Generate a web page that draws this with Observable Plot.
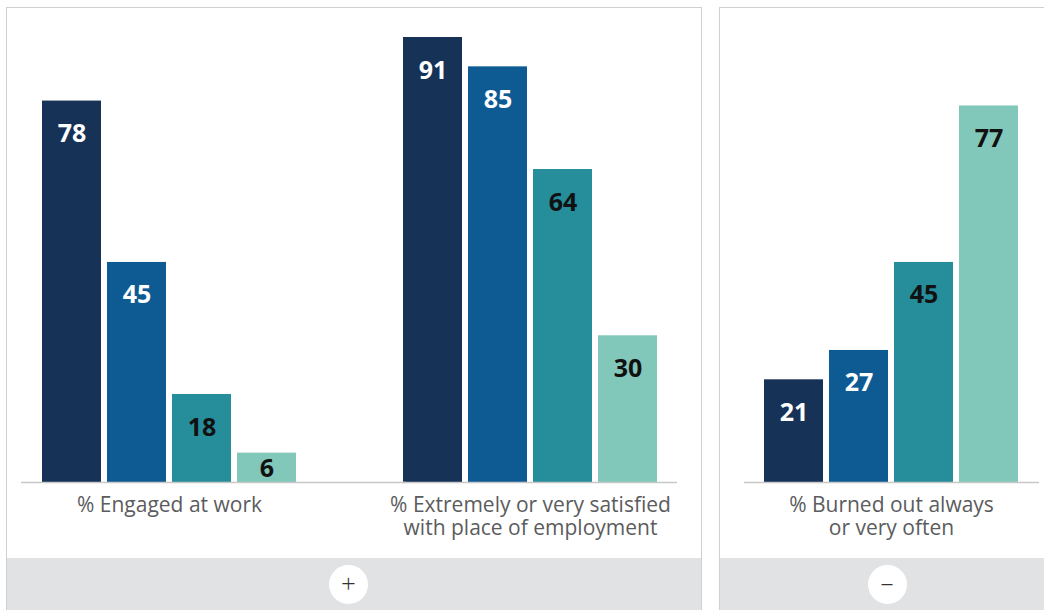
<!DOCTYPE html>
<html>
<head>
<meta charset="utf-8">
<script src="https://cdn.jsdelivr.net/npm/d3@7"></script>
<script src="https://cdn.jsdelivr.net/npm/@observablehq/plot@0.6"></script>
<style>
  html, body { margin: 0; padding: 0; background: #fff; }
  #stage { position: relative; width: 1044px; height: 610px; overflow: hidden; font-family: "Open Sans", sans-serif; }
  .panel { position: absolute; top: 7px; height: 640px; border: 1.5px solid #d0d0d0; box-sizing: border-box; background: #fff; }
  .band { position: absolute; left: 0; right: 0; top: 549.5px; height: 100px; background: #e1e2e4; }
  .btn { position: absolute; width: 39px; height: 39px; border-radius: 50%; background: #fff; top: 564.5px;
         display: flex; align-items: center; justify-content: center; color: #333; font-size: 26px; font-weight: 300; line-height: 1; }
  #chart { position: absolute; left: 0; top: 0; }
  #chart svg { background: transparent !important; }
</style>
</head>
<body>
<div id="stage">
  <div class="panel" style="left:6px; width:696px;"><div class="band"></div></div>
  <div class="panel" style="left:719px; width:400px;"><div class="band"></div></div>
  <div class="btn" style="left:329px;"><span style="margin-top:-3px">+</span></div>
  <div class="btn" style="left:867.5px;"><span style="margin-top:-4px">–</span></div>
  <div id="chart"></div>
</div>
<script>
// ---- Data ----
const metrics = ["Engaged", "Satisfied", "Burned out"];
const metricLabels = ["% Engaged at work", "% Extremely or very satisfied\nwith place of employment", "% Burned out always\nor very often"];
const segments = ["Segment 1", "Segment 2", "Segment 3", "Segment 4"];
const engagedValues = [78, 45, 18, 6];
const satisfiedValues = [91, 85, 64, 30];
const burnedOutValues = [21, 27, 45, 77];
const segmentColors = ["#163257", "#0e5b94", "#268d9b", "#81c7ba"];

const seriesByMetric = [engagedValues, satisfiedValues, burnedOutValues];
const rows = metrics.flatMap((m, i) => segments.map((s, j) => ({metric: m, segment: s, idx: j, value: seriesByMetric[i][j]})));
const labelRows = metrics.map((m, i) => ({metric: m, label: metricLabels[i]}));

const labelY = d => Math.max(d.value / 2, d.value - 6.55);
const ruleColor = "#c8c8c8";

const chart = Plot.plot({
  width: 1044,
  height: 558,
  marginLeft: 41,
  marginRight: 25,
  marginTop: 37,
  marginBottom: 76,
  style: {background: "transparent", overflow: "visible"},
  fx: {domain: metrics, paddingInner: 0.2916, paddingOuter: 0, axis: null},
  x: {domain: segments, paddingInner: 0.1, paddingOuter: 0, axis: null},
  y: {domain: [0, 91], axis: null},
  color: {domain: segments, range: segmentColors},
  marks: [
    Plot.barY(rows, {fx: "metric", x: "segment", y: "value", fill: "segment"}),
    Plot.ruleY([{metric: metrics[0], v: 0}], {fx: "metric", y: "v", stroke: ruleColor, strokeWidth: 1.5, insetLeft: -20, insetRight: -109}),
    Plot.ruleY([{metric: metrics[1], v: 0}], {fx: "metric", y: "v", stroke: ruleColor, strokeWidth: 1.5, insetRight: -19}),
    Plot.ruleY([{metric: metrics[2], v: 0}], {fx: "metric", y: "v", stroke: ruleColor, strokeWidth: 1.5, insetLeft: -19, insetRight: -20}),
    Plot.text(rows.filter(d => d.idx < 2), {fx: "metric", x: "segment", y: labelY, text: d => String(d.value),
      fill: "#ffffff", fontSize: 25, fontWeight: 700, fontFamily: "Open Sans", dy: 1}),
    Plot.text(rows.filter(d => d.idx >= 2), {fx: "metric", x: "segment", y: labelY, text: d => String(d.value),
      fill: "#111111", fontSize: 25, fontWeight: 700, fontFamily: "Open Sans", dy: 1}),
    Plot.text(labelRows, {fx: "metric", text: "label", frameAnchor: "bottom", lineAnchor: "top", dy: 12,
      fontSize: 21, lineHeight: 1.14, fill: "#5b5c5e", fontFamily: "Open Sans"})
  ]
});
document.getElementById("chart").appendChild(chart);
</script>
</body>
</html>
